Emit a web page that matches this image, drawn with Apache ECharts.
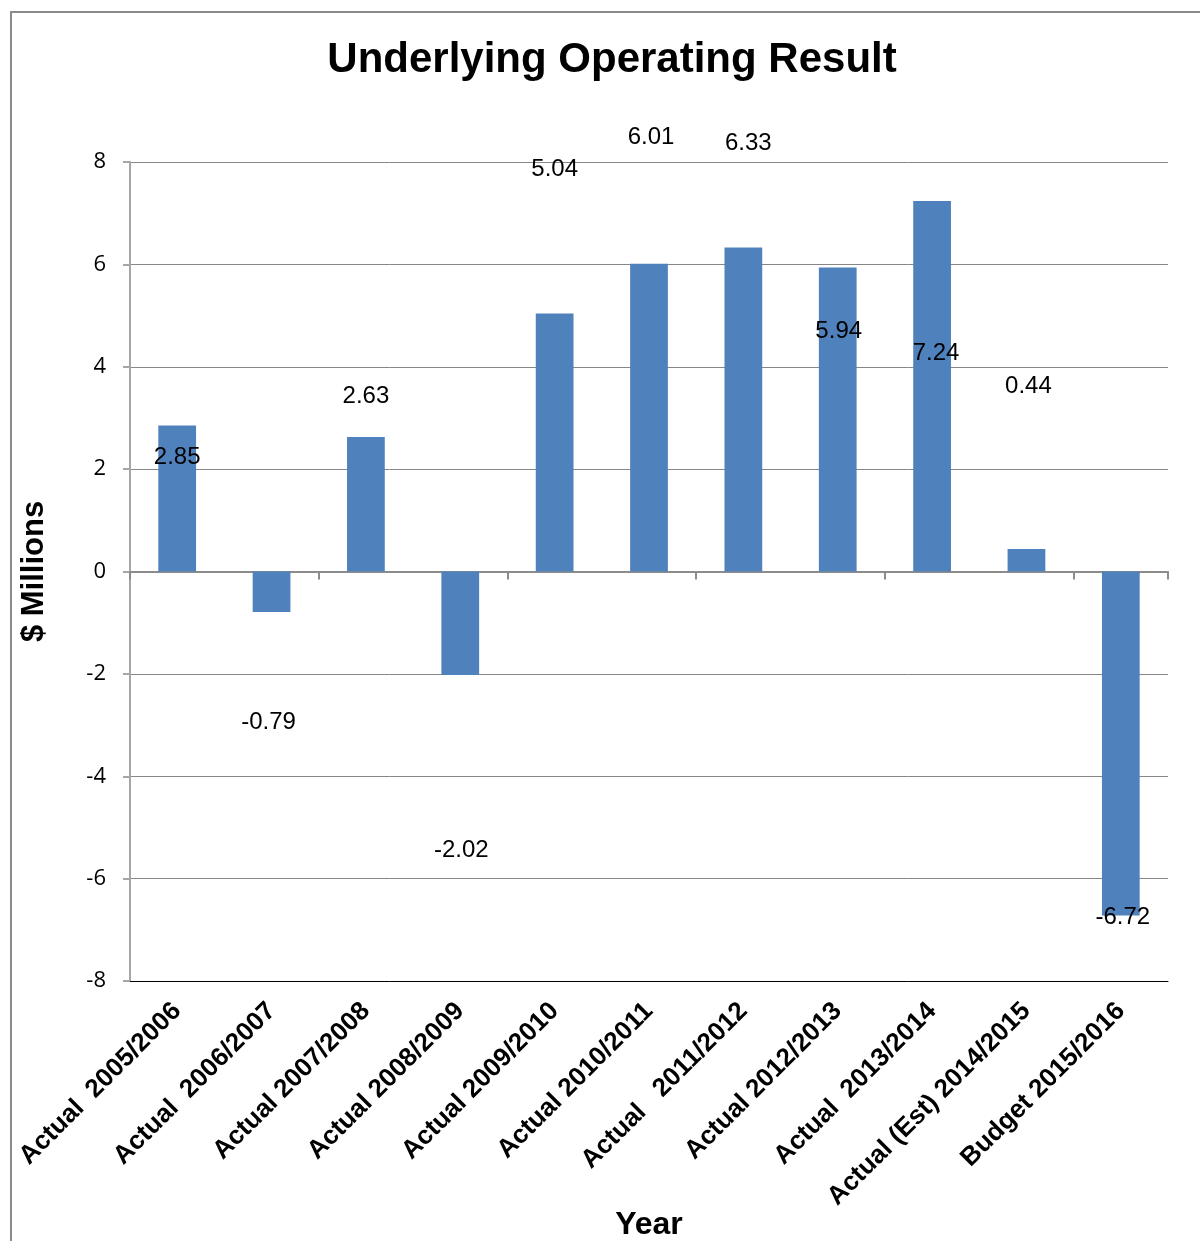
<!DOCTYPE html>
<html>
<head>
<meta charset="utf-8">
<title>Underlying Operating Result</title>
<script src="https://cdn.jsdelivr.net/npm/echarts@6/dist/echarts.min.js"></script>
<style>
  html, body { margin: 0; padding: 0; background: #fff; overflow: hidden; }
  #chart { width: 1200px; height: 1241px; }
</style>
</head>
<body>
<div id="chart"></div>
<script>
// Reporting years (category axis)
const years = [
  'Actual  2005/2006',
  'Actual  2006/2007',
  'Actual 2007/2008',
  'Actual 2008/2009',
  'Actual 2009/2010',
  'Actual 2010/2011',
  'Actual   2011/2012',
  'Actual 2012/2013',
  'Actual  2013/2014',
  'Actual (Est) 2014/2015',
  'Budget 2015/2016'
];

// Underlying operating result, $ millions
const results = [2.85, -0.79, 2.63, -2.02, 5.04, 6.01, 6.33, 5.94, 7.24, 0.44, -6.72];

// Value axis range and step
const yMin = -8;
const yMax = 8;
const yStep = 2;

// Label placement: pixel shift of each value label from its bar's centre
const labelShift = [
  [0, -41], [-3, 131], [0, -108], [1, 227], [0, -273], [2, -280],
  [5, -266], [1, -88], [4, -33], [2, -174], [2, 174]
];

const FONT = '"Liberation Sans", Arial, sans-serif';
const chart = echarts.init(document.getElementById('chart'), null, { renderer: 'canvas' });

chart.setOption({
  backgroundColor: '#ffffff',
  animation: false,
  graphic: [{
    type: 'rect',
    shape: { x: 11, y: 12, width: 1300, height: 1400 },
    style: { fill: 'none', stroke: '#8a8a8a', lineWidth: 2 },
    silent: true
  }],
  title: {
    text: 'Underlying Operating Result',
    left: 607,
    textAlign: 'center',
    top: 34,
    textStyle: { fontFamily: FONT, fontSize: 42, fontWeight: 'bold', color: '#000' }
  },
  grid: {
    left: 130, width: 1038, top: 162, height: 819,
    containLabel: false,
    outerBoundsMode: 'none'
  },
  xAxis: [
    {
      // bottom axis carrying the year labels
      type: 'category',
      data: years,
      position: 'bottom',
      axisLine: { show: true, onZero: false, lineStyle: { color: '#000', width: 1 } },
      axisTick: { show: false },
      axisLabel: {
        rotate: 45,
        margin: 26,
        interval: 0,
        fontFamily: FONT,
        fontSize: 26,
        fontWeight: 'bold',
        color: '#000'
      },
      name: 'Year',
      nameLocation: 'middle',
      nameGap: 228,
      nameMoveOverlap: false,
      nameTextStyle: { fontFamily: FONT, fontSize: 32, fontWeight: 'bold', color: '#000' }
    },
    {
      // zero line with category boundary ticks
      type: 'category',
      data: years,
      position: 'top',
      axisLine: { show: true, onZero: true, lineStyle: { color: '#8c8c8c', width: 2 } },
      axisTick: { show: true, inside: true, length: 8, lineStyle: { color: '#8c8c8c', width: 2 } },
      axisLabel: { show: false }
    }
  ],
  yAxis: {
    type: 'value',
    min: yMin,
    max: yMax,
    interval: yStep,
    axisLine: { show: true, onZero: false, lineStyle: { color: '#a6a6a6', width: 2 } },
    axisTick: { show: true, length: 7, lineStyle: { color: '#a6a6a6', width: 2 } },
    splitLine: { show: true, lineStyle: { color: '#868686', width: 1 } },
    axisLabel: {
      margin: 24,
      fontFamily: '"Open Sans", "Noto Sans", sans-serif',
      fontSize: 22,
      color: '#000'
    },
    name: '$ Millions',
    nameLocation: 'middle',
    nameRotate: 90,
    nameGap: 80,
    nameTextStyle: { fontFamily: FONT, fontSize: 31, fontWeight: 'bold', color: '#000' }
  },
  series: [{
    type: 'bar',
    xAxisIndex: 0,
    yAxisIndex: 0,
    barWidth: '40%',
    itemStyle: { color: '#4f81bd' },
    data: results.map((v, i) => ({
      value: v,
      label: { offset: labelShift[i] }
    })),
    label: {
      show: true,
      position: 'inside',
      color: '#000',
      fontFamily: FONT,
      fontSize: 24,
      textBorderWidth: 0,
      formatter: p => String(p.value)
    }
  }]
});
</script>
</body>
</html>
